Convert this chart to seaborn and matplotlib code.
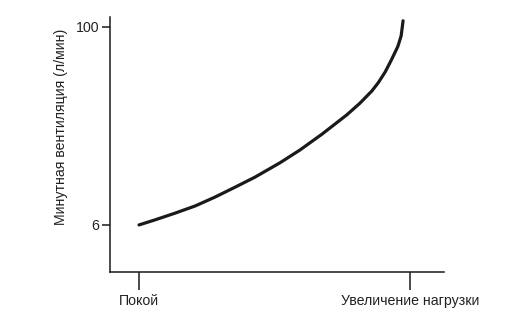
import matplotlib
matplotlib.use("Agg")
import matplotlib.pyplot as plt
import seaborn as sns
import pandas as pd

# Data (x: 0 = rest, 1 = increased load)
load = [0.0, 0.059, 0.133, 0.207, 0.280, 0.354, 0.428, 0.520, 0.594, 0.674,
        0.717, 0.766, 0.815, 0.859, 0.883, 0.908, 0.932, 0.955, 0.967, 0.974]
ventilation = [6.0, 8.4, 11.6, 15.0, 19.2, 23.9, 28.7, 35.5, 41.6, 49.0,
               53.3, 58.2, 63.8, 69.6, 73.6, 78.6, 84.6, 90.8, 95.8, 102.9]
x_ticks = [0, 1]
x_tick_labels = ["Покой", "Увеличение нагрузки"]
y_ticks = [6, 100]
y_tick_labels = ["6", "100"]
y_label = "Минутная вентиляция (л/мин)"

sns.set_theme(style="ticks")
plt.rcParams["font.family"] = ["Liberation Sans", "DejaVu Sans"]

fig = plt.figure(figsize=(5.31, 3.19), dpi=100)
ax = fig.add_axes([110 / 531, 1 - 271.5 / 319, (444 - 110) / 531, (271.5 - 17) / 319])

df = pd.DataFrame({"load": load, "ventilation": ventilation})
sns.lineplot(data=df, x="load", y="ventilation", ax=ax, color="#1a1a1a",
             linewidth=2.3, solid_capstyle="round", solid_joinstyle="round", sort=False)

ax.set_xlim(-0.107, 1.125)
ax.set_ylim(-16.1, 104.7)
ax.set_xticks(x_ticks)
ax.set_xticklabels(x_tick_labels)
ax.set_yticks(y_ticks)
ax.set_yticklabels(y_tick_labels)
ax.set_xlabel("")
ax.set_ylabel(y_label, fontsize=10.2, color="#222222")
ax.yaxis.set_label_coords(-0.126, 0.568)

for side in ["top", "right"]:
    ax.spines[side].set_visible(False)
for side in ["left", "bottom"]:
    ax.spines[side].set_linewidth(1.1)
    ax.spines[side].set_color("#1a1a1a")

ax.tick_params(axis="x", length=13, width=1.1, color="#1a1a1a", pad=3,
               labelsize=10.2, labelcolor="#222222")
ax.tick_params(axis="y", length=6, width=1.1, color="#1a1a1a", pad=2,
               labelsize=10.2, labelcolor="#222222")

fig.savefig("out.png", dpi=100)
